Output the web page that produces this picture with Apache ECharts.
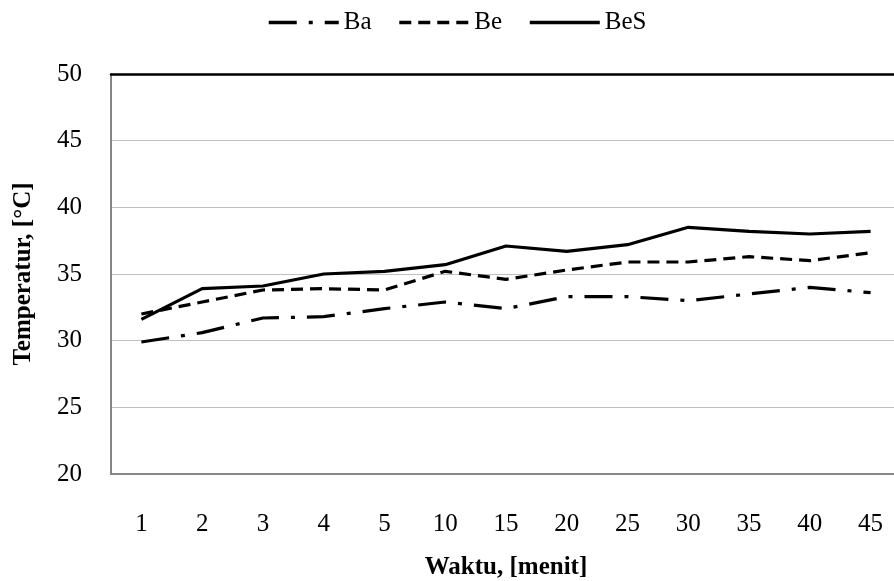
<!DOCTYPE html>
<html>
<head>
<meta charset="utf-8">
<script src="https://cdn.jsdelivr.net/npm/echarts@6/dist/echarts.min.js"></script>
<style>html,body{margin:0;padding:0;background:#fff}#c{width:894px;height:581px}</style>
</head>
<body>
<div id="c"></div>
<script>
var categories = ['1','2','3','4','5','10','15','20','25','30','35','40','45'];
var ba  = [29.9, 30.6, 31.7, 31.8, 32.4, 32.9, 32.4, 33.3, 33.3, 33.0, 33.5, 34.0, 33.6];
var be  = [32.0, 32.9, 33.8, 33.9, 33.8, 35.2, 34.6, 35.3, 35.9, 35.9, 36.3, 36.0, 36.6];
var bes = [31.6, 33.9, 34.1, 35.0, 35.2, 35.7, 37.1, 36.7, 37.2, 38.5, 38.2, 38.0, 38.2];
var yTicks = [20, 25, 30, 35, 40, 45, 50];

var font = 'Liberation Serif';
var chart = echarts.init(document.getElementById('c'), null, {renderer: 'canvas'});
chart.setOption({
  animation: false,
  backgroundColor: '#fff',
  legend: {
    top: 5, left: 262,
    itemWidth: 70, itemHeight: 14, itemGap: 26,
    itemStyle: {opacity: 0},
    lineStyle: {width: 3.5},
    textStyle: {fontFamily: font, fontSize: 25, color: '#000'},
    data: ['Ba', 'Be', 'BeS']
  },
  grid: {left: 111, top: 74, width: 790, height: 400, containLabel: false, outerBoundsMode: 'none'},
  xAxis: [{
    type: 'category', data: categories, boundaryGap: true,
    name: 'Waktu, [menit]', nameLocation: 'middle', nameGap: 81,
    nameTextStyle: {fontFamily: font, fontSize: 25, fontWeight: 'bold', color: '#000'},
    axisLine: {lineStyle: {color: '#868686', width: 2}},
    axisTick: {inside: true, length: 6, lineStyle: {color: '#868686', width: 1}},
    axisLabel: {fontFamily: font, fontSize: 25, color: '#000', margin: 38},
    splitLine: {show: false}
  }, {
    type: 'category', data: categories, position: 'top',
    axisLine: {show: true, lineStyle: {color: '#000', width: 2.5}},
    axisTick: {show: false}, axisLabel: {show: false}, splitLine: {show: false}
  }],
  yAxis: {
    type: 'value', min: yTicks[0], max: yTicks[yTicks.length - 1], interval: 5,
    name: 'Temperatur, [°C]', nameLocation: 'middle', nameGap: 75,
    nameTextStyle: {fontFamily: font, fontSize: 25, fontWeight: 'bold', color: '#000'},
    axisLine: {show: true, lineStyle: {color: '#868686', width: 2}},
    axisTick: {show: false},
    axisLabel: {fontFamily: font, fontSize: 25, color: '#000', margin: 29},
    splitLine: {show: true, lineStyle: {color: '#c0c0c0', width: 1}}
  },
  series: [
    {name: 'Ba', type: 'line', data: ba, symbol: 'none', color: '#000',
     lineStyle: {color: '#000', width: 3.2, type: [28, 12, 4, 12]}},
    {name: 'Be', type: 'line', data: be, symbol: 'none', color: '#000',
     lineStyle: {color: '#000', width: 3.2, type: [12, 7]}},
    {name: 'BeS', type: 'line', data: bes, symbol: 'none', color: '#000',
     lineStyle: {color: '#000', width: 3.2, type: 'solid'}}
  ]
});
</script>
</body>
</html>
